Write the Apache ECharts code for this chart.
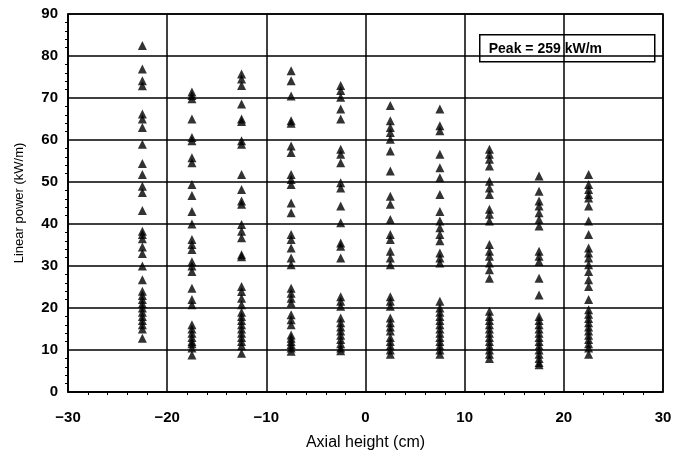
<!DOCTYPE html>
<html><head><meta charset="utf-8">
<script src="https://cdn.jsdelivr.net/npm/echarts@6/dist/echarts.min.js"></script>
<style>html,body{margin:0;padding:0;background:#fff}#c{width:678px;height:456px}</style>
</head><body><div id="c"></div>
<script>
const positions = [-22.5, -17.5, -12.5, -7.5, -2.5, 2.5, 7.5, 12.5, 17.5, 22.5];
const colM225 = [82.5, 76.9, 74.1, 72.9, 66.2, 65, 63, 59, 54.4, 51.8, 49, 47.5, 43.2, 38.3, 37.5, 36.5, 34.5, 33, 30, 26.7, 24, 23, 22, 21, 20, 19, 18, 17, 16, 15, 12.8];
const colM175 = [71.4, 70.6, 69.8, 65, 60.6, 59.8, 55.8, 54.6, 49.4, 46.8, 43, 40, 36.3, 35.1, 33.9, 31, 30, 28.7, 24.7, 22, 20.8, 16, 15, 14, 13, 12, 11.5, 10.5, 8.8];
const colM125 = [75.7, 74.5, 73, 68.6, 65, 64.4, 59.8, 59, 51.8, 48.2, 45.5, 44.7, 39.9, 38.3, 36.7, 32.7, 32.2, 25.1, 23.9, 22.3, 20.8, 19, 18, 17, 16, 15, 14, 13, 12, 11, 9.2];
const colM75 = [76.5, 74.1, 70.5, 64.6, 64, 58.6, 57, 51.8, 50.6, 49.4, 45, 42.7, 37.5, 36.3, 34.3, 31.9, 30.3, 24.7, 23.5, 22.3, 21.2, 18.4, 17.2, 16, 13.6, 12.8, 12, 11.3, 10.5, 9.7];
const colM25 = [73, 71.8, 70.2, 67.4, 65, 57.8, 56.6, 54.6, 49.8, 48.6, 44.3, 40.3, 35.5, 34.7, 31.9, 22.7, 21.6, 20.4, 17.6, 16.5, 15.5, 14.5, 13.5, 12.5, 11.5, 10.5, 9.8];
const colP25 = [68.2, 64.6, 63, 61.8, 60.2, 57.4, 52.6, 46.6, 44.7, 41.1, 37.5, 36.3, 33.5, 31.9, 30.3, 22.7, 21.6, 20.4, 17.6, 16.5, 15.5, 14.5, 13, 12, 11, 10, 9];
const colP75 = [67.4, 63.4, 62.2, 56.6, 53.4, 51, 47, 43, 40.7, 39.1, 37.5, 36, 33.1, 31.9, 30.7, 21.6, 20, 19, 18, 17, 16, 15, 14, 13, 12, 11, 10, 9];
const colP125 = [57.8, 56.6, 55.4, 53.8, 50.2, 48.6, 47, 43.5, 42.3, 40.7, 35.1, 33.5, 32.3, 30.7, 29.1, 27.1, 19.2, 18, 17, 16, 15, 14, 13, 12, 11, 10, 9, 8];
const colP175 = [51.4, 47.8, 45.5, 44.3, 42.7, 41.1, 39.5, 33.5, 32.3, 31.1, 27.1, 23.1, 18, 17, 16, 15, 14, 13, 12, 11, 10, 9, 8, 7, 6.5];
const colP225 = [51.8, 49.4, 48.2, 47, 46.2, 44.3, 40.7, 37.5, 34.3, 33.1, 31.9, 30.3, 28.7, 26.7, 25.1, 22, 19.6, 18.5, 17.5, 16.5, 15.5, 14.5, 13.5, 12.5, 11.5, 10.5, 9];
const columns = [colM225, colM175, colM125, colM75, colM25, colP25, colP75, colP125, colP175, colP225];
const xTitle = 'Axial height (cm)';
const yTitle = 'Linear power (kW/m)';
const peakText = 'Peak = 259 kW/m';

const pts = [];
columns.forEach((col, i) => col.forEach(v => pts.push([positions[i], v])));

const chart = echarts.init(document.getElementById('c'));
const font = 'Liberation Sans, Arial, sans-serif';
chart.setOption({
  animation: false,
  backgroundColor: '#fff',
  grid: {left: 68, right: 15, top: 14, bottom: 64, show: true, borderColor: '#000', borderWidth: 1.5},
  xAxis: {
    type: 'value', min: -30, max: 30, interval: 10,
    name: xTitle, nameLocation: 'middle', nameGap: 43,
    nameTextStyle: {fontFamily: font, fontSize: 16, color: '#000'},
    axisLine: {onZero: false, lineStyle: {color: '#000', width: 1.5}},
    axisTick: {show: false},
    minorTick: {show: true, splitNumber: 5, length: 3, lineStyle: {color: '#000'}},
    axisLabel: {fontFamily: font, fontSize: 15, fontWeight: 'bold', color: '#000', margin: 18,
      formatter: v => (v < 0 ? '\u2212' + Math.abs(v) : String(v))},
    splitLine: {show: true, lineStyle: {color: '#000', width: 1.5}}
  },
  yAxis: {
    type: 'value', min: 0, max: 90, interval: 10,
    name: yTitle, nameLocation: 'middle', nameGap: 42, nameRotate: 90,
    nameTextStyle: {fontFamily: font, fontSize: 13, color: '#000'},
    axisLine: {onZero: false, lineStyle: {color: '#000', width: 1.5}},
    axisTick: {show: false},
    minorTick: {show: true, splitNumber: 5, length: 3, lineStyle: {color: '#000'}},
    axisLabel: {fontFamily: font, fontSize: 15, fontWeight: 'bold', color: '#000', margin: 10},
    splitLine: {show: true, lineStyle: {color: '#000', width: 1.5}}
  },
  series: [{
    type: 'scatter', data: pts, symbol: 'triangle', symbolSize: 9,
    itemStyle: {color: '#000'}
  }],
  graphic: [{
    type: 'group', left: 479, top: 34,
    children: [
      {type: 'rect', shape: {x: 0, y: 0, width: 175, height: 27},
       style: {fill: '#fff', stroke: '#000', lineWidth: 1.5}},
      {type: 'text', style: {x: 9, y: 14, text: peakText, fontFamily: font, fontSize: 14, fontWeight: 'bold',
       fill: '#000', verticalAlign: 'middle'}}
    ]
  }]
});
</script></body></html>
